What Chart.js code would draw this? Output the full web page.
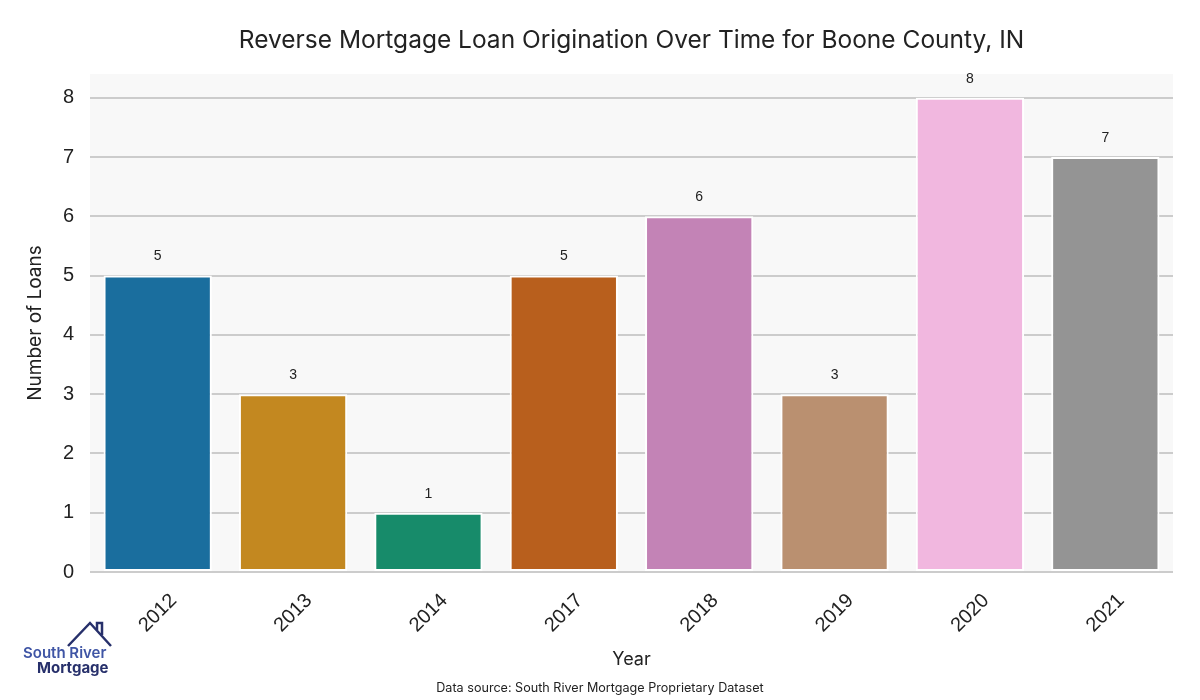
<!DOCTYPE html>
<html>
<head>
<meta charset="utf-8">
<script src="https://cdn.jsdelivr.net/npm/chart.js@4"></script>
<style>
  body { margin: 0; background: #fff; }
  #wrap { position: relative; width: 1200px; height: 700px; }
  #title { position: absolute; left: 90px; width: 1083px; top: 24px; text-align: center;
           font: 24.5px Inter, sans-serif; color: #222; white-space: nowrap; }
  #source { position: absolute; left: 0; width: 1200px; top: 680px; text-align: center;
            font: 12.6px Inter, sans-serif; color: #222; }
  #logo { position: absolute; left: 20px; top: 618px; }
</style>
</head>
<body>
<div id="wrap">
  <canvas id="myChart" width="1200" height="700"></canvas>
  <div id="title">Reverse Mortgage Loan Origination Over Time for Boone County, IN</div>
  <svg id="logo" width="100" height="64" viewBox="0 0 100 64">
    <polyline points="48,28 70,5 91,28" fill="none" stroke="#27306b" stroke-width="2.5"/>
    <polyline points="77,12 77,5 82,5 82,17" fill="none" stroke="#27306b" stroke-width="2.5"/>
    <text x="3" y="40" font-family="Inter, sans-serif" font-size="15" font-weight="600" fill="#3f55a5">South River</text>
    <text x="17" y="55" font-family="Inter, sans-serif" font-size="15" font-weight="700" fill="#27306b">Mortgage</text>
  </svg>
  <div id="source">Data source: South River Mortgage Proprietary Dataset</div>
</div>
<script>
var years = ['2012', '2013', '2014', '2017', '2018', '2019', '2020', '2021'];
var loans = [5, 3, 1, 5, 6, 3, 8, 7];
var barColors = ['#1a6e9e', '#c38820', '#178b6a', '#b85f1d', '#c383b6', '#ba9070', '#f1b7df', '#949494'];
var yTicks = [0, 1, 2, 3, 4, 5, 6, 7, 8];

// light grey panel behind the bars
var panelBg = {
  id: 'panelBg',
  beforeDraw: function(chart){
    var a = chart.chartArea, ctx = chart.ctx;
    ctx.save();
    ctx.fillStyle = '#f8f8f8';
    ctx.fillRect(a.left, a.top, a.right - a.left, a.bottom - a.top);
    ctx.restore();
  }
};

// numbers above the bars
var barValues = {
  id: 'barValues',
  afterDatasetsDraw: function(chart){
    var ctx = chart.ctx;
    var meta = chart.getDatasetMeta(0);
    ctx.save();
    ctx.font = '14px "Liberation Sans", Arial, sans-serif';
    ctx.fillStyle = '#222';
    ctx.textAlign = 'center';
    ctx.textBaseline = 'middle';
    meta.data.forEach(function(bar, i){
      ctx.fillText(loans[i], bar.x, bar.y - 19);
    });
    ctx.restore();
  }
};

Chart.defaults.font.family = '"Liberation Sans", Arial, sans-serif';
Chart.defaults.color = '#222';

var myChart = new Chart(document.getElementById('myChart'), {
  type: 'bar',
  data: {
    labels: years,
    datasets: [
      {
        data: loans,
        backgroundColor: barColors,
        borderColor: '#ffffff',
        borderWidth: 2,
        borderSkipped: false,
        barPercentage: 0.8,
        categoryPercentage: 1
      }
    ]
  },
  options: {
    responsive: false,
    animation: false,
    layout: { padding: { top: 74, right: 27, bottom: 30, left: 0 } },
    plugins: {
      legend: { display: false },
      tooltip: { enabled: false },
      title: { display: false }
    },
    scales: {
      x: {
        grid: { display: false },
        border: { display: false },
        ticks: {
          font: { size: 20 },
          maxRotation: 45,
          minRotation: 45,
          labelOffset: 16,
          padding: 9
        },
        title: {
          display: true,
          text: 'Year',
          font: { family: 'Inter, sans-serif', size: 18 },
          padding: { top: 5, bottom: 0 }
        },
        afterFit: function(scale){ scale.height = 98; }
      },
      y: {
        min: 0,
        max: 8.4,
        afterBuildTicks: function(scale){
          scale.ticks = yTicks.map(function(v){ return { value: v }; });
        },
        grid: { color: '#cccccc', lineWidth: 2, drawTicks: false },
        border: { display: false },
        ticks: { font: { size: 20 }, padding: 16 },
        title: {
          display: true,
          text: 'Number of Loans',
          font: { family: 'Inter, sans-serif', size: 19 },
          padding: { top: 24, bottom: 0 }
        },
        afterFit: function(scale){ scale.width = 90; }
      }
    }
  },
  plugins: [panelBg, barValues]
});
</script>
</body>
</html>
